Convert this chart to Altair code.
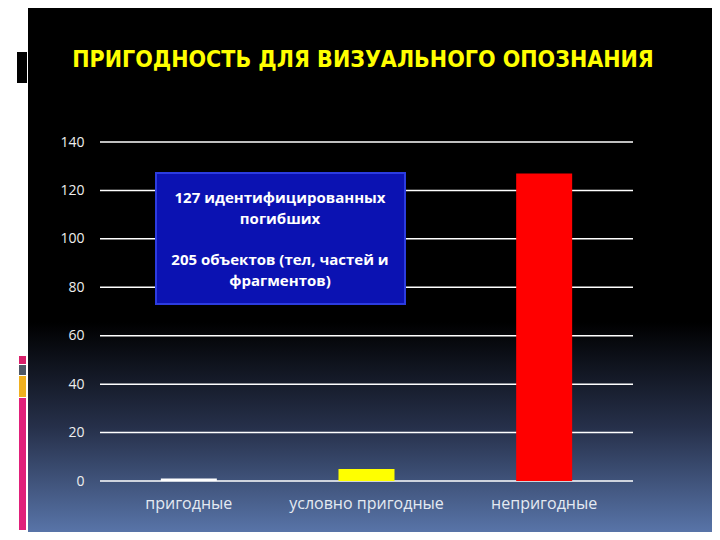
import altair as alt
import pandas as pd

# ---- data ----
categories = ["пригодные", "условно пригодные", "непригодные"]
values = [1, 5, 127]
bar_colors = ["#ffffff", "#ffff00", "#ff0000"]
y_ticks = [0, 20, 40, 60, 80, 100, 120, 140]
title_text = "ПРИГОДНОСТЬ ДЛЯ ВИЗУАЛЬНОГО ОПОЗНАНИЯ"
note_lines_1 = ["127 идентифицированных", "погибших"]
note_lines_2 = ["205 объектов (тел, частей и", "фрагментов)"]

df = pd.DataFrame({"cat": categories, "val": values})
ticks_df = pd.DataFrame({"t": y_ticks})
one = pd.DataFrame({"a": [0]})

W, H = 533, 339
y_scale = alt.Scale(domain=[0, 140], nice=False)
y_axis = alt.Axis(
    title=None, values=y_ticks, ticks=False, domain=False, grid=False,
    labelFont="Open Sans", labelFontSize=14, labelColor="#eeeeee",
    labelPadding=16, zindex=1,
)

# background gradient panel
bg = alt.Chart(one).mark_rect(
    fill=alt.Gradient(
        gradient="linear",
        stops=[
            alt.GradientStop(offset=0, color="#000000"),
            alt.GradientStop(offset=0.6, color="#000000"),
            alt.GradientStop(offset=0.8, color="#26304a"),
            alt.GradientStop(offset=1, color="#5874a8"),
        ],
        x1=0, x2=0, y1=0, y2=1,
    ),
    strokeWidth=0,
).encode(
    x=alt.value(-72), x2=alt.value(612), y=alt.value(-134), y2=alt.value(390)
)

# left decorations
deco_black = alt.Chart(one).mark_rect(fill="#000000").encode(
    x=alt.value(-83), x2=alt.value(-73), y=alt.value(-90), y2=alt.value(-59)
)
deco_pink1 = alt.Chart(one).mark_rect(fill="#d8206a").encode(
    x=alt.value(-81), x2=alt.value(-74), y=alt.value(214), y2=alt.value(222)
)
deco_gray = alt.Chart(one).mark_rect(fill="#4e5866").encode(
    x=alt.value(-81), x2=alt.value(-74), y=alt.value(223), y2=alt.value(233)
)
deco_yellow = alt.Chart(one).mark_rect(fill="#f0b020").encode(
    x=alt.value(-81), x2=alt.value(-74), y=alt.value(234), y2=alt.value(255)
)
deco_pink2 = alt.Chart(one).mark_rect(fill="#e0207a").encode(
    x=alt.value(-81), x2=alt.value(-74), y=alt.value(256), y2=alt.value(388)
)

# gridlines (drawn above background, below bars)
grid = alt.Chart(ticks_df).mark_rule(color="#ffffff", strokeWidth=1.5).encode(
    y=alt.Y("t:Q", scale=y_scale, axis=y_axis)
)

bars = alt.Chart(df).mark_bar(size=56).encode(
    x=alt.X(
        "cat:N",
        sort=categories,
        scale=alt.Scale(paddingInner=0, paddingOuter=0),
        axis=alt.Axis(
            title=None, labelAngle=0, ticks=False, domain=False, grid=False,
            labelFont="Open Sans", labelFontSize=16, labelColor="#e4eaf2",
            labelPadding=14, labelFontWeight="normal", zindex=1,
        ),
    ),
    y=alt.Y("val:Q", scale=y_scale, axis=y_axis),
    color=alt.Color(
        "cat:N",
        scale=alt.Scale(domain=categories, range=bar_colors),
        legend=None,
    ),
)

title = alt.Chart(one).mark_text(
    text=title_text,
    font="DejaVu Sans Condensed",
    fontSize=23,
    fontWeight="bold",
    color="#ffff00",
    align="center",
    baseline="middle",
).encode(x=alt.value(263), y=alt.value(-82))

box = alt.Chart(one).mark_rect(
    fill="#0b12b2", stroke="#2c3ce0", strokeWidth=2
).encode(x=alt.value(56), x2=alt.value(305), y=alt.value(31), y2=alt.value(162))

note_style = dict(
    font="Open Sans",
    fontSize=15,
    fontWeight="bold",
    color="#ffffff",
    align="center",
    baseline="middle",
    lineHeight=21,
)
note1 = alt.Chart(one).mark_text(text=note_lines_1, **note_style).encode(
    x=alt.value(180), y=alt.value(56)
)
note2 = alt.Chart(one).mark_text(text=note_lines_2, **note_style).encode(
    x=alt.value(180), y=alt.value(118)
)

chart = alt.layer(
    bg, deco_black, deco_pink1, deco_gray, deco_yellow, deco_pink2,
    grid, bars, box, note1, note2, title
).properties(
    width=W,
    height=H,
    padding={"left": 92, "top": 134, "right": 79, "bottom": 51},
    autosize=alt.AutoSizeParams(type="none"),
    background="#ffffff",
).configure_view(stroke=None)

chart.save("out.html", embed_options={"renderer": "svg", "actions": False})
